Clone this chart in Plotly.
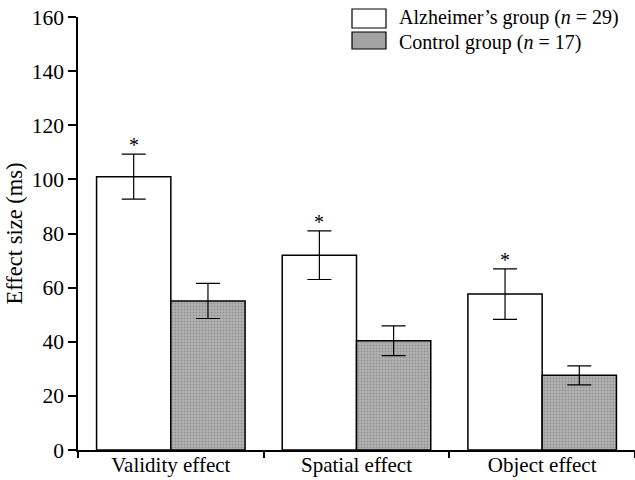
import plotly.graph_objects as go

categories = ["Validity effect", "Spatial effect", "Object effect"]
alz_values = [101, 72, 57.6]
alz_err = [8.3, 9.0, 9.3]
ctl_values = [55.1, 40.4, 27.6]
ctl_err = [6.5, 5.5, 3.5]
series_names = ["Alzheimer\u2019s group (<i>n</i> = 29)", "Control group (<i>n</i> = 17)"]
y_ticks = [0, 20, 40, 60, 80, 100, 120, 140, 160]

FONT = "Liberation Serif"
GRAY = "#a3a3a3"

fig = go.Figure()
fig.add_trace(go.Bar(
    x=categories, y=alz_values, name=series_names[0],
    marker=dict(color="white", line=dict(color="black", width=1.5)),
    error_y=dict(type="data", array=alz_err, color="black", thickness=1.2, width=12),
    showlegend=False,
))
fig.add_trace(go.Bar(
    x=categories, y=ctl_values, name=series_names[1],
    marker=dict(color=GRAY, line=dict(color="black", width=1.5),
                pattern=dict(shape=".", fgcolor="#707070", bgcolor="#b4b4b4", size=3, solidity=0.4)),
    error_y=dict(type="data", array=ctl_err, color="black", thickness=1.2, width=12),
    showlegend=False,
))

# significance asterisks above the Alzheimer's error bars (white bar = left half of group)
for i, c in enumerate(categories):
    fig.add_annotation(x=i - 0.2, y=alz_values[i] + alz_err[i], xref="x", yref="y",
                       text="*", showarrow=False, yshift=9,
                       font=dict(family=FONT, size=20, color="black"))

# legend drawn manually
legend_rows = [(9, 28, "white", 17), (32, 49, None, 42.5)]
for (y0, y1, fill, ty), name in zip(legend_rows, series_names):
    fig.add_shape(type="rect", xref="paper", yref="paper",
                  x0=(352 - 78) / 557, x1=(386 - 78) / 557,
                  y0=1 - (y1 - 17) / 433, y1=1 - (y0 - 17) / 433,
                  fillcolor=fill if fill else GRAY, line=dict(color="black", width=1.2))
    fig.add_annotation(xref="paper", yref="paper",
                       x=(397 - 78) / 557, y=1 - (ty - 17) / 433,
                       text=name, showarrow=False, xanchor="left", yanchor="middle",
                       font=dict(family=FONT, size=20, color="black"))

fig.update_layout(
    width=635, height=480,
    margin=dict(l=78, r=0, t=17, b=30),
    paper_bgcolor="white", plot_bgcolor="white",
    barmode="group", bargap=0.2, bargroupgap=0,
    font=dict(family=FONT, size=18, color="black"),
)
fig.update_xaxes(
    range=[-0.5, 2.5], showline=True, linecolor="black", linewidth=1.5,
    ticks="outside", tickson="boundaries", ticklen=6, tickwidth=1.5, tickcolor="black",
    showgrid=False, tickfont=dict(family=FONT, size=21), zeroline=False,
    automargin=False, ticklabelstandoff=-5,
)
fig.update_yaxes(
    range=[0, 160], tickvals=y_ticks, showline=True, linecolor="black", linewidth=1.5,
    ticks="outside", ticklen=8, tickwidth=1.5, tickcolor="black",
    showgrid=False, zeroline=False, tickfont=dict(family=FONT, size=21.5),
    title=dict(text="Effect size (ms)", font=dict(family=FONT, size=22.5), standoff=3),
    automargin=False,
)

fig.write_html("out.html")
